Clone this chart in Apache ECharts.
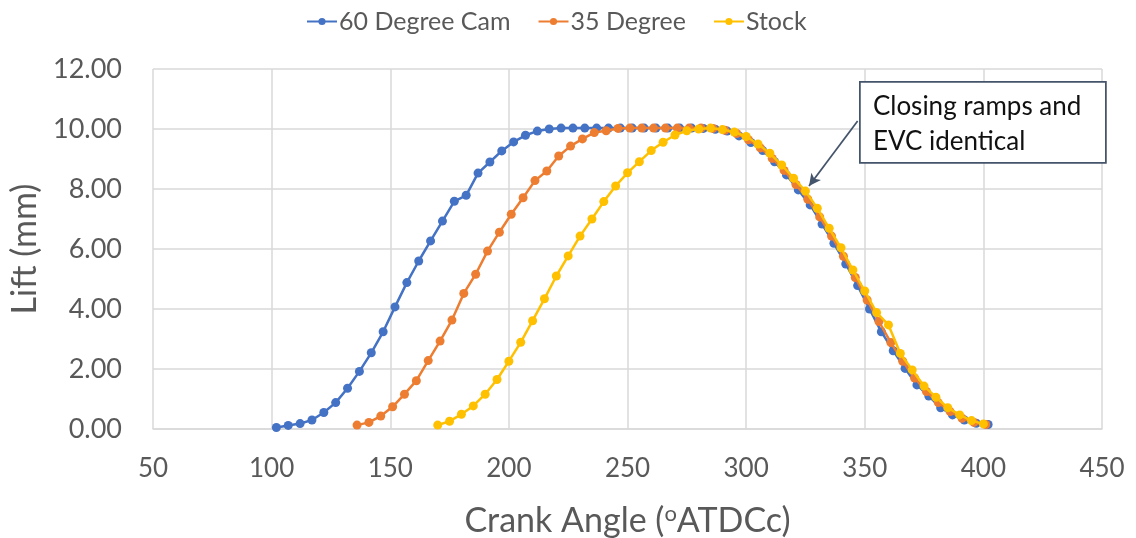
<!DOCTYPE html>
<html>
<head>
<meta charset="utf-8">
<script src="https://cdn.jsdelivr.net/npm/echarts@6/dist/echarts.min.js"></script>
<style>
  html, body { margin: 0; padding: 0; background: #ffffff; overflow: hidden; }
  #chart { width: 1136px; height: 538px; }
</style>
</head>
<body>
<div id="chart"></div>
<script>
// Valve lift profiles: crank angle (deg ATDC combustion) vs lift (mm)
const cam60Angle = [102,107,112,117,122,127,132,137,142,147,152,157,162,167,172,177,182,187,192,197,
  202,207,212,217,222,227,232,237,242,247,252,257,262,267,272,277,282,287,292,297,
  302,307,312,317,322,327,332,337,342,347,352,357,362,367,372,377,382,387,392,397,402];
const cam60Lift = [0.05,0.12,0.18,0.30,0.55,0.88,1.36,1.92,2.54,3.24,4.07,4.88,5.60,6.27,6.93,7.59,7.79,8.53,8.90,9.27,
  9.57,9.79,9.93,10.00,10.03,10.03,10.03,10.03,10.03,10.03,10.03,10.03,10.03,10.03,10.03,10.03,10.02,9.99,9.93,9.77,
  9.55,9.28,8.91,8.47,7.97,7.47,6.83,6.19,5.50,4.78,4.00,3.24,2.61,2.02,1.47,1.10,0.71,0.47,0.30,0.19,0.15];

const cam35Angle = [136,141,146,151,156,161,166,171,176,181,186,191,196,201,206,211,216,221,226,231,
  236,241,246,251,256,261,266,271,276,281,286,291,296,301,306,311,316,321,326,331,
  336,341,346,351,356,361,366,371,376,381,386,391,396,401];
const cam35Lift = [0.13,0.22,0.43,0.74,1.16,1.61,2.28,2.93,3.63,4.52,5.16,5.93,6.56,7.16,7.71,8.28,8.60,9.10,9.43,9.67,
  9.88,9.94,10.02,10.03,10.03,10.03,10.03,10.03,10.03,10.03,10.02,9.96,9.85,9.64,9.37,9.02,8.62,8.15,7.66,7.07,
  6.43,5.76,5.05,4.30,3.58,2.88,2.26,1.70,1.25,0.88,0.58,0.36,0.22,0.15];

const stockAngle = [170,175,180,185,190,195,200,205,210,215,220,225,230,235,240,245,250,255,260,265,
  270,275,280,285,290,295,300,305,310,315,320,325,330,335,340,345,350,355,360,365,
  370,375,380,385,390,395,400];
const stockLift = [0.13,0.26,0.49,0.77,1.16,1.65,2.26,2.89,3.61,4.34,5.10,5.77,6.43,7.00,7.58,8.10,8.54,8.91,9.28,9.56,
  9.80,9.94,10.00,10.03,9.98,9.90,9.75,9.50,9.19,8.80,8.36,7.93,7.36,6.69,6.04,5.30,4.60,3.88,3.47,2.52,
  1.97,1.43,1.06,0.71,0.47,0.28,0.17];

const seriesNames = ['60 Degree Cam', '35 Degree', 'Stock'];
const seriesColors = ['#4472C4', '#ED7D31', '#FFC000'];

// Callout: where the note points to, and where its leader line starts
const calloutText = ['Closing ramps and', 'EVC identical'];
const calloutFrom = [347, 10.27];
const calloutTo = [326.5, 8.1];

const FONT = 'Lato, "Open Sans", sans-serif';
const TEXT_GREY = '#595959';
const GRID_GREY = '#d9d9d9';

function pairs(xs, ys) { return xs.map((x, i) => [x, ys[i]]); }

const chart = echarts.init(document.getElementById('chart'), null, { renderer: 'canvas' });

function lineSeries(idx, xs, ys, extra) {
  return Object.assign({
    name: seriesNames[idx],
    type: 'line',
    data: pairs(xs, ys),
    symbol: 'circle',
    symbolSize: 9,
    showSymbol: true,
    color: seriesColors[idx],
    lineStyle: { width: 2.5, color: seriesColors[idx] },
    itemStyle: { color: seriesColors[idx] },
    animation: false,
    z: 2 + idx
  }, extra || {});
}

chart.setOption({
  backgroundColor: '#ffffff',
  textStyle: { fontFamily: FONT },
  legend: {
    top: 4,
    left: 301,
    itemWidth: 30,
    itemHeight: 9,
    itemGap: 27,
    textStyle: { fontSize: 25, color: TEXT_GREY, fontFamily: FONT, padding: [0, 0, 0, -3] },
    data: seriesNames
  },
  // fixed plot rectangle; axis titles may sit right at the canvas edge
  grid: { left: 153, right: 34, top: 69, bottom: 109, containLabel: false, outerBoundsMode: 'none' },
  xAxis: {
    type: 'value',
    min: 50, max: 450, interval: 50,
    axisLine: { show: true, lineStyle: { color: GRID_GREY, width: 1.5 } },
    axisTick: { show: false },
    splitLine: { show: true, lineStyle: { color: GRID_GREY, width: 1.5 } },
    axisLabel: { fontSize: 26, color: TEXT_GREY, margin: 27, fontFamily: FONT },
    name: 'Crank Angle ({sup|o}ATDCc)',
    nameLocation: 'middle',
    nameGap: 74,
    nameTextStyle: {
      fontSize: 34, color: TEXT_GREY, fontFamily: FONT,
      rich: { sup: { fontSize: 22, color: TEXT_GREY, fontFamily: FONT, verticalAlign: 'top', padding: [0, 0, 14, 0] } }
    }
  },
  yAxis: {
    type: 'value',
    min: 0, max: 12, interval: 2,
    axisLine: { show: false },
    axisTick: { show: false },
    splitLine: { show: true, lineStyle: { color: GRID_GREY, width: 1.5 } },
    axisLabel: { fontSize: 27, color: TEXT_GREY, margin: 31, fontFamily: FONT, formatter: v => v.toFixed(2) },
    name: 'Lift (mm)',
    nameLocation: 'middle',
    nameGap: 108,
    nameTextStyle: { fontSize: 34, color: TEXT_GREY, fontFamily: FONT }
  },
  series: [
    lineSeries(0, cam60Angle, cam60Lift),
    lineSeries(1, cam35Angle, cam35Lift),
    lineSeries(2, stockAngle, stockLift, {
      markLine: {
        silent: true,
        symbol: ['none', 'arrow'],
        symbolSize: [9, 12],
        label: { show: false },
        lineStyle: { color: '#44546A', width: 1.75, type: 'solid' },
        data: [[{ coord: calloutFrom }, { coord: calloutTo }]],
        animation: false
      }
    })
  ]
});

// Callout box drawn over the plot area
chart.setOption({
  graphic: [{
    type: 'group',
    left: 859,
    top: 81,
    z: 100,
    children: [
      {
        type: 'rect',
        shape: { x: 0, y: 0, width: 246, height: 81 },
        style: { fill: '#ffffff', stroke: '#44546A', lineWidth: 1.75 }
      },
      {
        type: 'text',
        x: 13, y: 7,
        style: {
          text: calloutText.join('\n'),
          fill: '#111111',
          font: '26px ' + FONT,
          lineHeight: 35
        }
      }
    ]
  }]
});
</script>
</body>
</html>
